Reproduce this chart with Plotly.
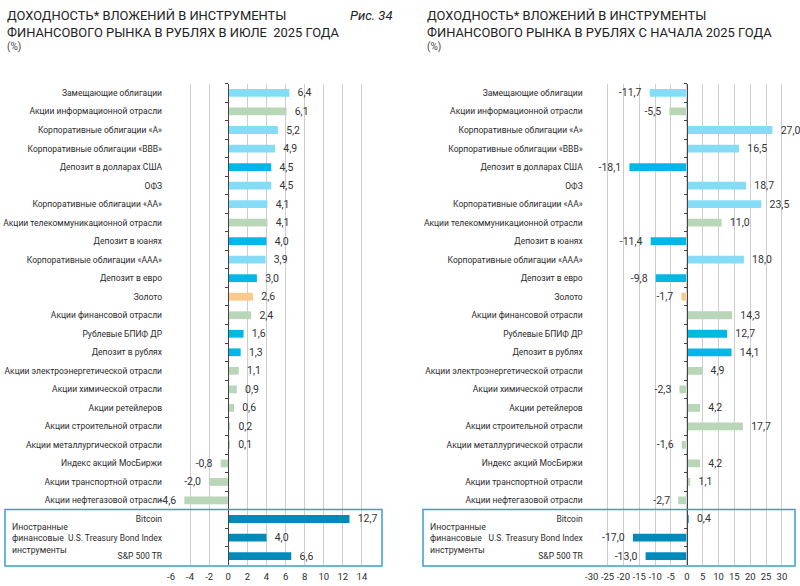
import plotly.graph_objects as go

W, H = 800, 586

categories = [
    "Замещающие облигации",
    "Акции информационной отрасли",
    "Корпоративные облигации «А»",
    "Корпоративные облигации «ВВВ»",
    "Депозит в долларах США",
    "ОФЗ",
    "Корпоративные облигации «АА»",
    "Акции телекоммуникационной отрасли",
    "Депозит в юанях",
    "Корпоративные облигации «ААА»",
    "Депозит в евро",
    "Золото",
    "Акции финансовой отрасли",
    "Рублевые БПИФ ДР",
    "Депозит в рублях",
    "Акции электроэнергетической отрасли",
    "Акции химической отрасли",
    "Акции ретейлеров",
    "Акции строительной отрасли",
    "Акции металлургической отрасли",
    "Индекс акций МосБиржи",
    "Акции транспортной отрасли",
    "Акции нефтегазовой отрасли",
    "Bitcoin",
    "U.S. Treasury Bond Index",
    "S&P 500 TR",
]

groups = [
    "bond", "stock", "bond", "bond", "deposit", "bond", "bond", "stock",
    "deposit", "bond", "deposit", "gold", "stock", "deposit", "deposit",
    "stock", "stock", "stock", "stock", "stock", "stock", "stock", "stock",
    "foreign", "foreign", "foreign",
]

july_values = [6.4, 6.1, 5.2, 4.9, 4.5, 4.5, 4.1, 4.1, 4.0, 3.9, 3.0, 2.6, 2.4,
               1.6, 1.3, 1.1, 0.9, 0.6, 0.2, 0.1, -0.8, -2.0, -4.6,
               12.7, 4.0, 6.6]

ytd_values = [-11.7, -5.5, 27.0, 16.5, -18.1, 18.7, 23.5, 11.0, -11.4, 18.0,
              -9.8, -1.7, 14.3, 12.7, 14.1, 4.9, -2.3, 4.2, 17.7, -1.6, 4.2,
              1.1, -2.7, 0.4, -17.0, -13.0]

left_ticks = [-6, -4, -2, 0, 2, 4, 6, 8, 10, 12, 14]
right_ticks = [-30, -25, -20, -15, -10, -5, 0, 5, 10, 15, 20, 25, 30]

left_range = [-6, 16]
right_range = [-30, 34]

group_colors = {
    "bond": "#84dcf7",
    "stock": "#b9d6b9",
    "deposit": "#00b7e6",
    "gold": "#fdc98c",
    "foreign": "#0489bb",
}

title_left_1 = "ДОХОДНОСТЬ* ВЛОЖЕНИЙ В ИНСТРУМЕНТЫ"
title_left_2 = "ФИНАНСОВОГО РЫНКА В РУБЛЯХ В ИЮЛЕ  2025 ГОДА"
title_right_1 = "ДОХОДНОСТЬ* ВЛОЖЕНИЙ В ИНСТРУМЕНТЫ"
title_right_2 = "ФИНАНСОВОГО РЫНКА В РУБЛЯХ С НАЧАЛА 2025 ГОДА"
fig_label = "Рис. 34"
unit_label = "(%)"
box_label = "Иностранные<br>финансовые<br>инструменты"


def px(x):
    return x / W


def py(y):
    return 1 - y / H


def fmt(v):
    return f"{v:.1f}".replace(".", ",")


def label_text(v):
    nb = "\u00a0\u00a0"
    return nb + fmt(v) if v >= 0 else fmt(v) + nb


FONT = "Roboto"
TXT = "#2b2b2b"

left_dom = [px(171), px(381)]
right_dom = [px(591.7), px(794.6)]
y_dom = [py(565.3), py(83.7)]
n = len(categories)
y_rng = [n - 0.5, -0.5]

colors = [group_colors[g] for g in groups]

fig = go.Figure()


def add_panel(values, xa, ya, ya_zero):
    fig.add_trace(go.Bar(
        x=values, y=categories, orientation="h", xaxis=xa, yaxis=ya,
        marker=dict(color=colors, line=dict(width=0)),
        width=0.42,
        text=[label_text(v) for v in values],
        textposition="outside", constraintext="none", cliponaxis=False,
        textfont=dict(family=FONT, size=10.5, color="#333333"),
        hoverinfo="skip", showlegend=False,
    ))
    fig.add_trace(go.Bar(
        x=[0] * n, y=categories, orientation="h", xaxis=xa, yaxis=ya_zero,
        marker=dict(color="rgba(0,0,0,0)"), hoverinfo="skip",
        showlegend=False,
    ))


add_panel(july_values, "x", "y", "y2")
add_panel(ytd_values, "x2", "y3", "y4")


def xaxis_cfg(dom, rng, ticks, anchor):
    return dict(
        domain=dom, range=rng, anchor=anchor, automargin=False,
        tickvals=ticks, ticktext=[str(t) for t in ticks], tickangle=0,
        showgrid=True, gridcolor="#cdcdcd", gridwidth=1,
        zeroline=False, showline=False, ticks="",
        tickfont=dict(family=FONT, size=9.5, color=TXT),
        ticklabelstandoff=4, fixedrange=True,
    )


def ylabel_cfg(anchor):
    return dict(
        domain=y_dom, type="category", categoryorder="array",
        categoryarray=categories, range=y_rng, anchor=anchor, automargin=False,
        showgrid=False, zeroline=False, showline=False, ticks="",
        tickfont=dict(family=FONT, size=8.5, color=TXT),
        ticklabelstandoff=8, fixedrange=True,
    )


def yzero_cfg(overlay, dom, rng):
    pos = dom[0] + (0 - rng[0]) / (rng[1] - rng[0]) * (dom[1] - dom[0])
    return dict(
        domain=y_dom, type="category", categoryorder="array",
        categoryarray=categories, range=y_rng, overlaying=overlay,
        anchor="free", position=pos, side="left", automargin=False,
        showline=True, linecolor="#444444", linewidth=1,
        ticks="outside", tickson="boundaries", ticklen=3,
        tickcolor="#444444", tickwidth=1,
        showticklabels=False, showgrid=False, zeroline=False,
        fixedrange=True,
    )


fig.update_layout(
    width=W, height=H, autosize=False,
    margin=dict(l=0, r=0, t=0, b=0, pad=0),
    paper_bgcolor="white", plot_bgcolor="white",
    font=dict(family=FONT, color=TXT),
    bargap=0.58,
    xaxis=xaxis_cfg(left_dom, left_range, left_ticks, "y"),
    xaxis2=xaxis_cfg(right_dom, right_range, right_ticks, "y3"),
    yaxis=ylabel_cfg("x"),
    yaxis2=yzero_cfg("y", left_dom, left_range),
    yaxis3=ylabel_cfg("x2"),
    yaxis4=yzero_cfg("y3", right_dom, right_range),
)

# titles
ann = []
for x0, t1, t2 in [(5, title_left_1, title_left_2), (425, title_right_1, title_right_2)]:
    ann.append(dict(x=px(x0), y=py(15), text=t1, xanchor="left", yanchor="middle",
                    font=dict(family=FONT, size=12.9, color="#222222")))
    ann.append(dict(x=px(x0), y=py(32), text=t2, xanchor="left", yanchor="middle",
                    font=dict(family=FONT, size=12.9, color="#222222")))
    ann.append(dict(x=px(x0), y=py(47), text=unit_label, xanchor="left", yanchor="middle",
                    font=dict(family=FONT, size=10, color="#444444")))
ann.append(dict(x=px(395), y=py(15), text="<i>" + fig_label + "</i>", xanchor="right",
                yanchor="middle", font=dict(family=FONT, size=13, color="#222222")))
for x0 in (10, 428):
    ann.append(dict(x=px(x0), y=py(538), text=box_label, xanchor="left", yanchor="middle",
                    align="left", font=dict(family=FONT, size=8.7, color=TXT)))
for a in ann:
    a.update(xref="paper", yref="paper", showarrow=False)
fig.update_layout(annotations=ann)

# boxes around foreign instruments
for x0, x1 in [(5, 382), (423, 795)]:
    fig.add_shape(type="rect", xref="paper", yref="paper",
                  x0=px(x0), x1=px(x1), y0=py(566), y1=py(509.6),
                  line=dict(color="#3aa1cb", width=1.5), fillcolor="rgba(0,0,0,0)",
                  layer="above")

fig.write_html("out.html", config={"displayModeBar": False},
               post_script="document.body.style.margin='0px';")
